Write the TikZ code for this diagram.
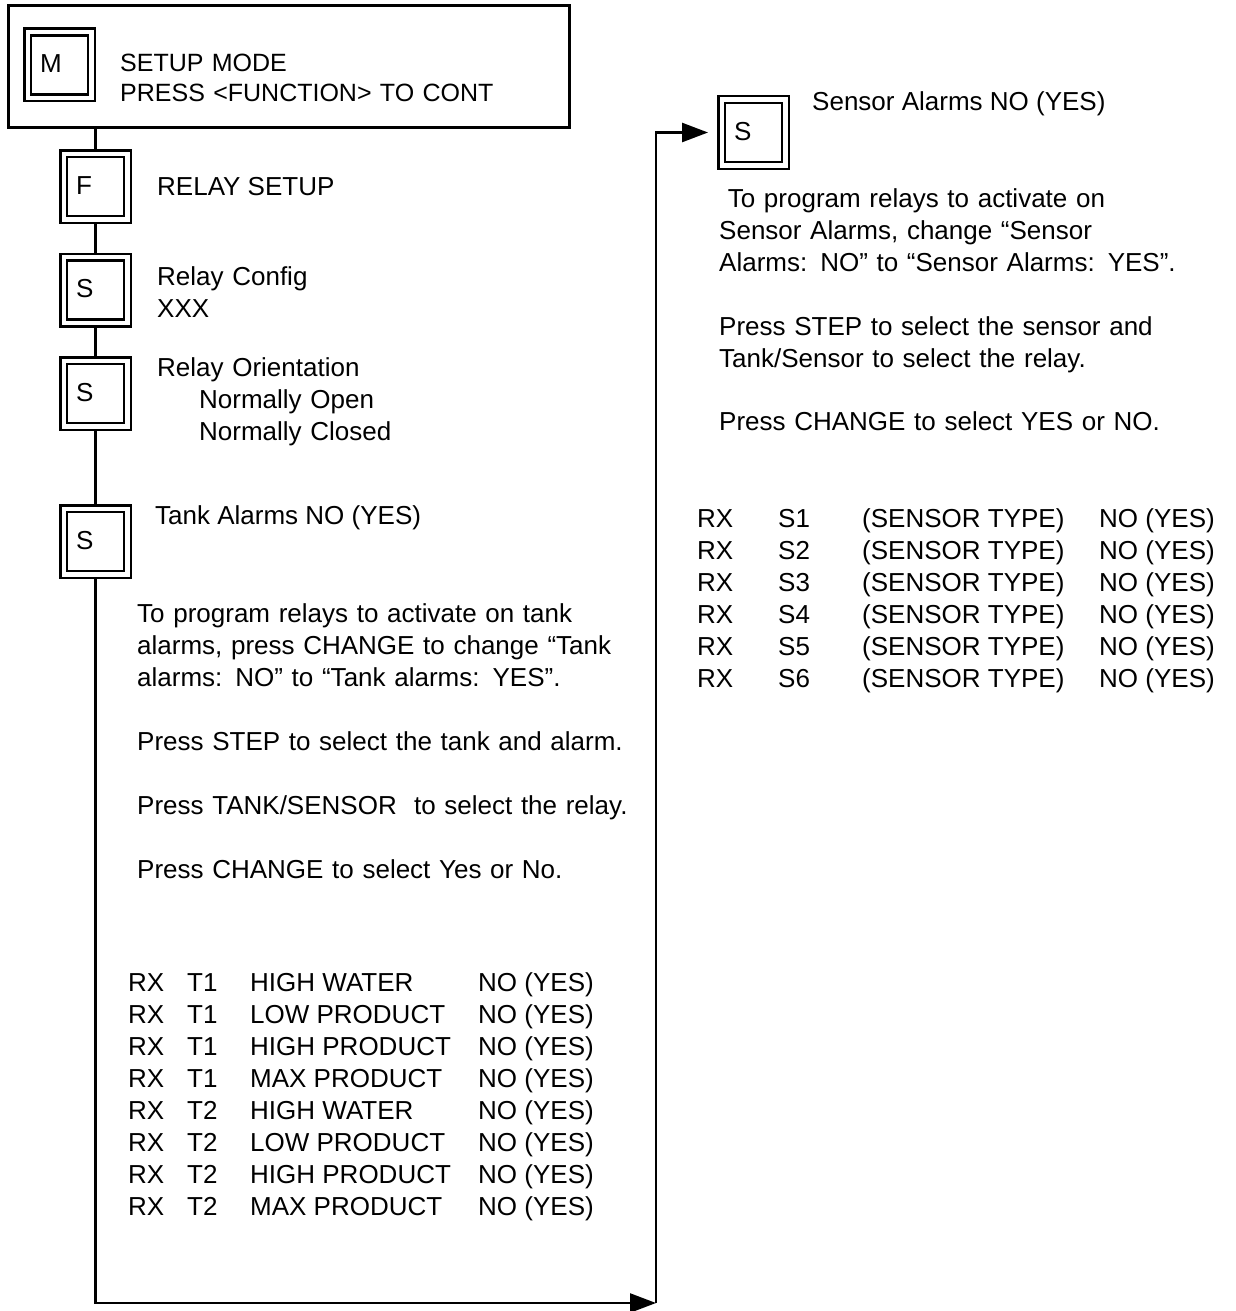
\documentclass[tikz,border=0pt]{standalone}
\usepackage{fontspec}
\setmainfont{Liberation Sans}
\usetikzlibrary{arrows.meta,positioning}

\tikzset{
  stepbox/.style={draw, double, line width=2.5pt, double distance=4.25pt,
    minimum width=63.75pt, minimum height=65.75pt, inner sep=0pt, outer sep=4.6pt,
    label={[inner sep=0pt, xshift=-9.5pt, yshift=1pt]center:\makebox[20pt][l]{#1}}},
  txt/.style={anchor=base west, inner sep=0pt},
  para/.style={anchor=base west, inner sep=0pt, text width=560pt, align=left},
  flow/.style={line width=2.5pt},
  tip/.style={-{Triangle[length=26pt,width=19pt]}},
}

\begin{document}
\begin{tikzpicture}[x=1pt, y=-1pt, font=\fontsize{26}{32}\selectfont]
        \useasboundingbox (0,0) rectangle (1235,1311);

        % Mode box at the top
        \node[draw, line width=3pt, minimum width=561pt, minimum height=122pt, inner sep=0pt] (modebox) at (288.5,67) {};
        \node[stepbox=M] (mkey) at (59.5,65) {};
        \node[para, font=\fontsize{25}{30}\selectfont] (modetxt) at (120,72) {SETUP MODE\\PRESS <FUNCTION> TO CONT};

        % Left column of keys
        \node[stepbox=F] (fkey) at (95.5,186.5) {};
        \node[txt] (fkeytxt) at (157,195) {RELAY SETUP};

        \node[stepbox=S] (cfgkey) at (95.5,290) {};
        \node[para] (cfgtxt) at (157,285.5) {Relay Config\\XXX};

        \node[stepbox=S] (orientkey) at (95.5,393.5) {};
        \node[para] (orienttxt) at (157,376) {Relay Orientation\\\hspace*{42pt}Normally Open\\\hspace*{42pt}Normally Closed};

        \node[stepbox=S] (tankkey) at (95.5,541.5) {};
        \node[txt] (tanktitle) at (155,524) {Tank Alarms NO (YES)};

        \node[para] (tanktxt) at (137,622) {To program relays to activate on tank\\
          alarms, press CHANGE to change “Tank\\
          alarms: NO” to “Tank alarms: YES”.\\[32pt]
          Press STEP to select the tank and alarm.\\[32pt]
          Press TANK/SENSOR\ \ to select the relay.\\[32pt]
          Press CHANGE to select Yes or No.};

        % Tank alarm list
        \foreach \t/\a [count=\i from 0] in {T1/HIGH WATER, T1/LOW PRODUCT, T1/HIGH PRODUCT, T1/MAX PRODUCT,
                                               T2/HIGH WATER, T2/LOW PRODUCT, T2/HIGH PRODUCT, T2/MAX PRODUCT} {
          \node[txt] (trx\i) at (128,{991+32*\i}) {RX};
          \node[txt] (tid\i) at (187,{991+32*\i}) {\t};
          \node[txt] (talarm\i) at (250,{991+32*\i}) {\a};
          \node[txt] (tans\i) at (478,{991+32*\i}) {NO (YES)};
        }

        % Sensor key on the right
        \node[stepbox=S] (senskey) at (753.5,132.5) {};
        \node[txt] (senstitle) at (812,111) {Sensor Alarms NO (YES)};

        \node[para] (senstxt) at (719,207) {\ To program relays to activate on\\
          Sensor Alarms, change “Sensor\\
          Alarms: NO” to “Sensor Alarms: YES”.\\[32pt]
          Press STEP to select the sensor and\\
          Tank/Sensor to select the relay.\\[31pt]
          Press CHANGE to select YES or NO.};

        % Sensor alarm list
        \foreach \i in {1,...,6} {
          \node[txt] (srx\i) at (697,{495+32*\i}) {RX};
          \node[txt] (sid\i) at (778,{495+32*\i}) {S\i};
          \node[txt] (stype\i) at (862,{495+32*\i}) {(SENSOR TYPE)};
          \node[txt] (sans\i) at (1099,{495+32*\i}) {NO (YES)};
        }

        % Connectors
        \draw[flow] (modebox.south -| fkey) -- (fkey);
        \draw[flow] (fkey) -- (cfgkey);
        \draw[flow] (cfgkey) -- (orientkey);
        \draw[flow] (orientkey) -- (tankkey);

        % Loop round to the sensor key
        \coordinate (turn) at (656,1303);
        \draw[flow, tip] (tankkey) |- (turn);
        \draw[flow, tip, shorten >=9pt] (turn) |- (senskey);
    \end{tikzpicture}
\end{document}
